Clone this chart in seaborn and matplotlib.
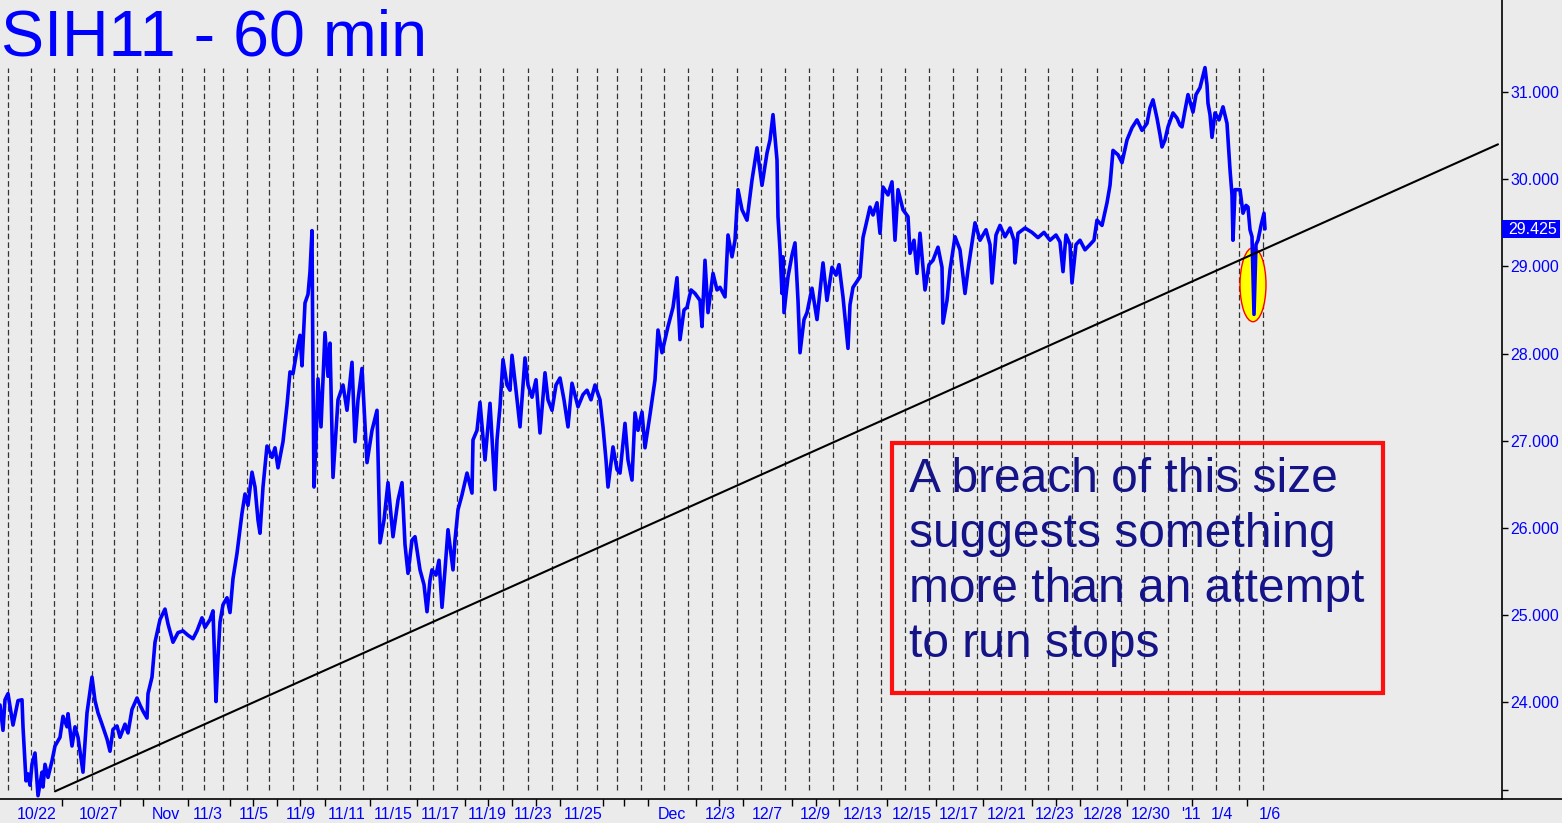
import numpy as np
import pandas as pd
import matplotlib
matplotlib.use("Agg")
import matplotlib.pyplot as plt
import matplotlib.transforms as mtransforms
import seaborn as sns
from matplotlib.patches import Ellipse, Rectangle
from matplotlib.lines import Line2D

# =========================
# DATA (x = bar index)
# =========================
bars_1 = [0, 3, 5, 8, 13, 18, 22, 23, 26, 28, 30, 32, 35, 38, 42, 43, 45, 48, 52, 55,
          60, 63, 67, 68, 72, 75, 78, 83, 87, 92, 95, 98, 102, 107, 110, 113, 117, 120, 125, 128,
          132, 137, 140, 143, 147, 148, 152, 155, 160, 165, 168, 173, 178, 183, 188, 193, 197, 202, 205, 210,
          213, 216, 218, 220, 223, 227, 230, 233, 237, 242, 245, 248, 252, 255, 258, 260, 263, 267, 272, 275,
          278, 283, 287, 290, 293, 297, 300, 302, 305, 308, 310, 312, 313, 314, 316, 318, 321, 325, 328]
price_1 = [23.97, 23.68, 24.03, 24.10, 23.74, 24.02, 24.03, 23.72, 23.10, 23.18, 23.05, 23.29, 23.42, 22.93, 23.20, 23.03, 23.29, 23.14, 23.33, 23.50,
           23.60, 23.84, 23.72, 23.87, 23.50, 23.72, 23.60, 23.20, 23.88, 24.29, 24.02, 23.88, 23.75, 23.58, 23.44, 23.69, 23.73, 23.60, 23.75, 23.65,
           23.92, 24.05, 23.97, 23.90, 23.82, 24.10, 24.29, 24.69, 24.95, 25.07, 24.90, 24.69, 24.80, 24.82, 24.77, 24.73, 24.82, 24.97, 24.86, 24.95,
           25.05, 24.01, 24.52, 24.92, 25.12, 25.20, 25.03, 25.42, 25.71, 26.17, 26.39, 26.26, 26.64, 26.47, 26.09, 25.94, 26.47, 26.94, 26.81, 26.92,
           26.69, 26.99, 27.41, 27.79, 27.77, 28.04, 28.21, 27.86, 28.58, 28.68, 28.94, 29.41, 27.69, 26.47, 26.99, 27.71, 27.16, 28.24, 27.74]

bars_2 = [330, 333, 338, 343, 347, 352, 355, 358, 362, 367, 372, 377, 380, 384, 388, 393, 398, 402, 405, 408,
          412, 415, 420, 424, 427, 430, 432, 436, 439, 442, 445, 448, 453, 455, 458, 462, 467, 472, 473, 477,
          480, 485, 490, 495, 497, 500, 503, 507, 510, 512, 516, 520, 525, 528, 532, 536, 540, 545, 548, 552,
          556, 560, 564, 568, 572, 578, 583, 587, 591, 595, 600, 603, 606, 608, 613, 617, 620, 625, 628, 632,
          635, 638, 642, 645, 650, 655, 658]
price_2 = [28.12, 26.58, 27.47, 27.64, 27.35, 27.90, 26.99, 27.47, 27.83, 26.75, 27.12, 27.35, 25.83, 26.09, 26.52, 25.90, 26.32, 26.52, 25.81, 25.48,
           25.86, 25.90, 25.52, 25.35, 25.04, 25.40, 25.52, 25.46, 25.63, 25.09, 25.52, 25.98, 25.52, 25.86, 26.21, 26.38, 26.63, 26.40, 27.01, 27.12,
           27.44, 26.78, 27.43, 26.44, 27.01, 27.39, 27.93, 27.64, 27.58, 27.98, 27.58, 27.16, 27.95, 27.64, 27.50, 27.70, 27.09, 27.78, 27.47, 27.35,
           27.64, 27.72, 27.47, 27.16, 27.66, 27.39, 27.53, 27.58, 27.47, 27.64, 27.47, 27.16, 26.78, 26.47, 26.93, 26.67, 26.63, 27.20, 26.78, 26.55,
           27.32, 27.12, 27.33, 26.92, 27.30, 27.70, 28.27]

bars_3 = [662, 668, 673, 677, 680, 684, 687, 691, 695, 700, 702, 705, 708, 713, 717, 720, 725, 728, 732, 735,
          738, 742, 747, 752, 757, 762, 767, 770, 773, 777, 778, 780, 782, 783, 784, 788, 792, 795, 798, 800,
          804, 807, 812, 817, 823, 827, 832, 836, 839, 843, 848, 850, 853, 860, 863, 867, 870, 873, 877, 880,
          883, 888, 892, 895, 898, 903, 908, 910, 914, 917, 920, 925, 929, 933, 938, 942, 943, 947, 950, 955,
          960, 965]
price_3 = [28.01, 28.31, 28.53, 28.87, 28.16, 28.50, 28.53, 28.73, 28.69, 28.61, 28.31, 29.07, 28.47, 28.92, 28.73, 28.76, 28.65, 29.36, 29.11, 29.30,
           29.88, 29.65, 29.53, 29.99, 30.36, 29.93, 30.30, 30.45, 30.74, 30.22, 29.57, 29.19, 28.69, 29.11, 28.47, 28.88, 29.13, 29.27, 28.61, 28.01,
           28.39, 28.47, 28.75, 28.39, 29.04, 28.61, 28.99, 28.90, 29.02, 28.65, 28.06, 28.56, 28.76, 28.88, 29.33, 29.53, 29.68, 29.59, 29.73, 29.38,
           29.91, 29.82, 29.97, 29.30, 29.88, 29.65, 29.57, 29.15, 29.30, 28.92, 29.38, 28.73, 29.02, 29.07, 29.22, 28.99, 28.35, 28.61, 28.96, 29.34,
           29.19, 28.69]

bars_4 = [968, 975, 980, 986, 990, 992, 996, 1000, 1005, 1010, 1014, 1015, 1018, 1025, 1032, 1038, 1044, 1050, 1056, 1060,
          1063, 1066, 1070, 1072, 1076, 1080, 1085, 1090, 1094, 1097, 1102, 1107, 1110, 1113, 1118, 1122, 1127, 1132, 1137, 1142,
          1147, 1150, 1153, 1157, 1160, 1162, 1165, 1168, 1173, 1177, 1180, 1182, 1185, 1188, 1193, 1196, 1200, 1203, 1205, 1207,
          1208, 1210, 1212, 1215, 1219, 1223, 1227, 1230, 1232, 1233, 1235, 1240, 1243, 1246, 1248, 1250, 1252, 1254, 1256, 1258,
          1261, 1264, 1265]
price_4 = [28.96, 29.50, 29.30, 29.42, 29.25, 28.81, 29.36, 29.47, 29.34, 29.44, 29.30, 29.04, 29.38, 29.44, 29.39, 29.33, 29.39, 29.30, 29.36, 29.28,
           28.94, 29.36, 29.25, 28.81, 29.25, 29.30, 29.19, 29.25, 29.30, 29.53, 29.47, 29.73, 29.93, 30.33, 30.28, 30.19, 30.45, 30.59, 30.68, 30.56,
           30.64, 30.82, 30.91, 30.70, 30.51, 30.37, 30.45, 30.60, 30.76, 30.70, 30.62, 30.60, 30.79, 30.97, 30.77, 30.97, 31.05, 31.19, 31.28, 31.08,
           30.87, 30.74, 30.48, 30.76, 30.68, 30.83, 30.64, 30.11, 29.82, 29.30, 29.88, 29.88, 29.61, 29.70, 29.68, 29.42, 29.34, 28.45, 29.25, 29.30,
           29.47, 29.61, 29.43]

# trendline endpoints
trend_x = [55, 1498]
trend_y = [22.98, 30.40]

# session separators (dashed) and day ticks on the time axis
session_starts = [8, 31, 54, 77, 92, 114, 137, 159, 182, 204, 223, 247, 269, 293, 317, 340, 363,
                  387, 410, 433, 457, 480, 503, 528, 552, 577, 597, 617, 641, 664, 688, 712, 737,
                  761, 785, 809, 833, 857, 881, 905, 929, 953, 977, 1001, 1025, 1048, 1072, 1097,
                  1121, 1144, 1168, 1192, 1216, 1239, 1263]
day_ticks = [37, 62, 99, 120, 143, 188, 230, 253, 277, 300, 325, 347, 370, 393, 417, 440, 465, 488,
             512, 536, 560, 583, 603, 624, 648, 672, 696, 719, 743, 767, 792, 816, 839, 863, 887,
             912, 936, 959, 983, 1007, 1032, 1056, 1080, 1103, 1127, 1151, 1192, 1222, 1247, 1270]
date_pos = [37, 99, 166, 208, 254, 301, 347, 393, 440, 487, 533, 583, 672, 720, 767, 815, 863,
            912, 959, 1007, 1055, 1103, 1151, 1191, 1222, 1270]
date_labels = ["10/22", "10/27", "Nov", "11/3", "11/5", "11/9", "11/11", "11/15", "11/17", "11/19",
               "11/23", "11/25", "Dec", "12/3", "12/7", "12/9", "12/13", "12/15", "12/17", "12/21",
               "12/23", "12/28", "12/30", "'11", "1/4", "1/6"]

price_ticks = [24, 25, 26, 27, 28, 29, 30, 31]
last_price = 29.425
breach_x, breach_y = 1253, 28.79

note_lines = ["A breach of this size", "suggests something",
              "more than an attempt", "to run stops"]

bars = bars_1 + bars_2 + bars_3 + bars_4
prices = price_1 + price_2 + price_3 + price_4
assert len(bars) == len(prices)
df = pd.DataFrame({"bar": bars, "price": prices})

# =========================
# STYLE
# =========================
BG = "#ebebeb"
BLUE = "#0000ff"
sns.set_theme(style="white")
plt.rcParams["font.family"] = ["Liberation Sans", "DejaVu Sans"]

W, H = 1562, 823
fig = plt.figure(figsize=(W / 100, H / 100), dpi=100, facecolor=BG)
ax = fig.add_axes([0, 24 / H, 1502 / W, 799 / H])
ax.set_facecolor(BG)

px_per_unit = 87.2
ymin = 31 - (799 - 92) / px_per_unit
ymax = 31 + 92 / px_per_unit
ax.set_xlim(0, 1502)
ax.set_ylim(ymin, ymax)

# session separators
ax.vlines(session_starts, 31 - (790 - 92) / px_per_unit, 31 - (68 - 92) / px_per_unit,
          colors="#333333", linestyles=(0, (4.5, 2.5)), lw=0.9, zorder=1)

# breach highlight
ax.add_patch(Ellipse((breach_x, breach_y), 26, 74 / px_per_unit,
                     facecolor="#ffff00", edgecolor="#ff0000", lw=1, zorder=3))

# price
sns.lineplot(data=df, x="bar", y="price", ax=ax, color=BLUE, lw=2.6,
             estimator=None, sort=False, zorder=4)

# trendline
sns.lineplot(x=trend_x, y=trend_y, ax=ax, color="black", lw=1.5, zorder=5)

# note box
y_top = 31 - (443 - 92) / px_per_unit
y_bot = 31 - (693 - 92) / px_per_unit
ax.add_patch(Rectangle((892, y_bot), 1383 - 892, y_top - y_bot, fill=False,
                       edgecolor="#ff1010", lw=3, zorder=6))
for i, line in enumerate(note_lines):
    yb = 31 - (492 + 55 * i - 92) / px_per_unit
    ax.text(909, yb, line, fontsize=34.5, color="#141488", ha="left", va="baseline", zorder=7)

# axes / spines
for s in ["left", "top"]:
    ax.spines[s].set_visible(False)
for s in ["right", "bottom"]:
    ax.spines[s].set_color("black")
    ax.spines[s].set_linewidth(1.2)
fig.add_artist(Line2D([1502 / W, 1], [24 / H, 24 / H], color="black", lw=1.2,
                      transform=fig.transFigure))

ax.yaxis.tick_right()
ax.set_yticks(price_ticks)
ax.set_yticklabels([f"{v:.3f}" for v in price_ticks])
ax.set_yticks([23], minor=True)
ax.tick_params(axis="y", which="both", direction="out", length=4, width=1, color="black",
               pad=2, labelsize=11.5, labelcolor=BLUE, right=True, left=False)

ax.set_xticks(date_pos)
ax.set_xticklabels(date_labels)
ax.set_xticks(day_ticks, minor=True)
ax.tick_params(axis="x", which="major", length=0, pad=6, labelsize=11.5, labelcolor=BLUE)
ax.tick_params(axis="x", which="minor", direction="out", length=5, width=1, color="black",
               bottom=True)
ax.set_xlabel("")
ax.set_ylabel("")
ax.grid(False)

# last price tag
trans = mtransforms.blended_transform_factory(ax.transAxes, ax.transData)
tag_h = 18 / px_per_unit
ax.add_patch(Rectangle((1.0, last_price - tag_h / 2), 58 / 1502, tag_h, transform=trans,
                       facecolor=BLUE, edgecolor="none", clip_on=False, zorder=8))
ax.text(1.0 + 6 / 1502, last_price, f"{last_price:.3f}", transform=trans, color="white",
        fontsize=11.5, ha="left", va="center", zorder=9, clip_on=False)

# title
fig.text(1 / W, 1 - 55 / H, "SIH11 - 60 min", fontsize=46.5, color=BLUE,
         ha="left", va="baseline")

fig.savefig("out.png", dpi=100, facecolor=BG)
